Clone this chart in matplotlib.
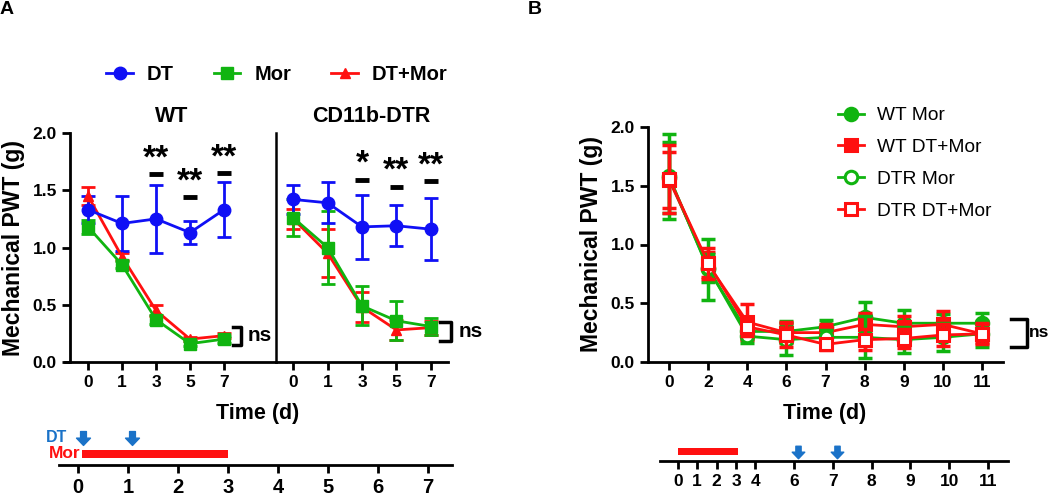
import numpy as np
import matplotlib
matplotlib.use('Agg')
import matplotlib.pyplot as plt
from matplotlib.lines import Line2D
from matplotlib.path import Path

plt.rcParams['font.family'] = ['Liberation Sans', 'DejaVu Sans']
plt.rcParams['font.weight'] = 'bold'
plt.rcParams['axes.labelweight'] = 'bold'

# ---- panel A data (mean, sem) ----
days_a = ['0', '1', '3', '5', '7']
wt_dt = [1.33, 1.21, 1.25, 1.13, 1.33]
wt_dt_err = [0.12, 0.24, 0.30, 0.10, 0.24]
wt_mor = [1.18, 0.85, 0.37, 0.16, 0.20]
wt_mor_err = [0.06, 0.03, 0.04, 0.02, 0.03]
wt_dtmor = [1.45, 0.92, 0.45, 0.20, 0.23]
wt_dtmor_err = [0.08, 0.03, 0.05, 0.02, 0.02]
dtr_dt = [1.42, 1.39, 1.18, 1.19, 1.16]
dtr_dt_err = [0.13, 0.18, 0.28, 0.18, 0.27]
dtr_mor = [1.26, 1.00, 0.49, 0.36, 0.31]
dtr_mor_err = [0.16, 0.32, 0.17, 0.17, 0.07]
dtr_dtmor = [1.25, 0.95, 0.48, 0.28, 0.30]
dtr_dtmor_err = [0.09, 0.21, 0.13, 0.09, 0.06]

sig_wt_x = [2, 3, 4]
sig_wt_y = [1.64, 1.44, 1.65]
sig_wt_txt = ['**', '**', '**']
sig_dtr_x = [2, 3, 4]
sig_dtr_y = [1.59, 1.53, 1.58]
sig_dtr_txt = ['*', '**', '**']

# ---- panel B data ----
days_b = ['0', '2', '4', '6', '7', '8', '9', '10', '11']
b_wt_mor = [1.58, 0.79, 0.26, 0.26, 0.30, 0.38, 0.33, 0.33, 0.33]
b_wt_mor_err = [0.36, 0.26, 0.06, 0.09, 0.06, 0.13, 0.11, 0.08, 0.09]
b_wt_dtmor = [1.55, 0.83, 0.34, 0.25, 0.25, 0.32, 0.30, 0.32, 0.24]
b_wt_dtmor_err = [0.24, 0.11, 0.15, 0.09, 0.07, 0.10, 0.09, 0.11, 0.08]
b_dtr_mor = [1.57, 0.80, 0.22, 0.19, 0.21, 0.21, 0.19, 0.21, 0.24]
b_dtr_mor_err = [0.30, 0.12, 0.06, 0.13, 0.06, 0.18, 0.11, 0.12, 0.11]
b_dtr_dtmor = [1.56, 0.84, 0.30, 0.23, 0.15, 0.19, 0.20, 0.23, 0.24]
b_dtr_dtmor_err = [0.29, 0.13, 0.08, 0.10, 0.05, 0.09, 0.08, 0.09, 0.09]

# ---- timelines ----
tl_a_days = [0, 1, 2, 3, 4, 5, 6, 7]
tl_a_mor = (0.08, 3.0)
tl_a_dt = [0.1, 1.07]
tl_b_days = [0, 1, 2, 3, 4, 6, 7, 8, 9, 10, 11]
tl_b_mor = (0, 3.1)
tl_b_dt = [6.1, 7.1]

BLUE = '#1010f5'
GREEN = '#10b410'
RED = '#ff1010'
ARROW = '#1a72c8'

W, H = 1050, 496
def fx(x): return x / W
def fy(y): return 1 - y / H
def rect(l, t, r, b): return [fx(l), fy(b), (r - l) / W, (b - t) / H]

# down arrow marker
arrow_mk = Path([(-0.42, 1), (0.42, 1), (0.42, 0.05), (1, 0.05), (0, -1), (-1, 0.05), (-0.42, 0.05), (-0.42, 1)],
                [Path.MOVETO] + [Path.LINETO] * 6 + [Path.CLOSEPOLY])

fig = plt.figure(figsize=(10.5, 4.96), dpi=100)

def style(ax):
    for s in ['top', 'right']:
        ax.spines[s].set_visible(False)
    for s in ['left', 'bottom']:
        ax.spines[s].set_linewidth(2)
    ax.tick_params(width=2, length=6, labelsize=12.5)

ax1 = fig.add_axes(rect(70, 133, 276, 362))
ax2 = fig.add_axes(rect(276, 133, 448, 362))
for ax, dt, dte, mo, moe, dm, dme in [
        (ax1, wt_dt, wt_dt_err, wt_mor, wt_mor_err, wt_dtmor, wt_dtmor_err),
        (ax2, dtr_dt, dtr_dt_err, dtr_mor, dtr_mor_err, dtr_dtmor, dtr_dtmor_err)]:
    x = np.arange(len(days_a))
    style(ax)
    ax.errorbar(x, dm, yerr=dme, color=RED, marker='^', ms=7, lw=2, capsize=5, capthick=2, elinewidth=2)
    ax.errorbar(x, mo, yerr=moe, color=GREEN, marker='s', ms=8, lw=2, capsize=5, capthick=2, elinewidth=2)
    ax.errorbar(x, dt, yerr=dte, color=BLUE, marker='o', ms=9, lw=2, capsize=5, capthick=2, elinewidth=2)
    ax.set_xticks(x)
    ax.set_xticklabels(days_a)
    ax.set_ylim(0, 2.0)

ax1.set_xlim(-0.53, 5.53)
ax2.set_xlim(-0.5, 4.5)
ax1.set_yticks([0, 0.5, 1.0, 1.5, 2.0])
ax1.set_yticklabels(['0.0', '0.5', '1.0', '1.5', '2.0'])
ax1.set_ylabel('Mechanical PWT (g)', fontsize=16.5, labelpad=5)
ax2.set_yticks([])
ax2.spines['left'].set_linewidth(1.8)
ax1.spines['bottom'].set_bounds(-0.68, 5.53)

for ax, sx, sy, st in [(ax1, sig_wt_x, sig_wt_y, sig_wt_txt), (ax2, sig_dtr_x, sig_dtr_y, sig_dtr_txt)]:
    for xx, yy, tt in zip(sx, sy, st):
        ax.plot([xx - 0.2, xx + 0.2], [yy, yy], color='black', lw=3.5, solid_capstyle='butt')
        ax.text(xx, yy, tt, ha='center', va='bottom', fontsize=24)

def bracket(ax, x0, x1, y0, y1, fs=15, pad=5):
    ax.plot([x0, x1, x1, x0], [y0, y0, y1, y1], color='black', lw=2.5, clip_on=False)
    ax.annotate('ns', xy=(x1, (y0 + y1) / 2), xytext=(pad, 0), textcoords='offset points',
                ha='left', va='center', fontsize=fs, annotation_clip=False)

bracket(ax1, 4.27, 4.5, 0.31, 0.15)
bracket(ax2, 4.27, 4.6, 0.35, 0.18)

fig.text(fx(172), fy(117), 'WT', ha='center', va='center', fontsize=15.5)
fig.text(fx(371), fy(117), 'CD11b-DTR', ha='center', va='center', fontsize=15.5)
fig.text(fx(258), fy(414), 'Time (d)', ha='center', va='center', fontsize=15.5)
fig.text(fx(0), fy(10), 'A', ha='left', va='center', fontsize=14)
fig.text(fx(528), fy(10), 'B', ha='left', va='center', fontsize=14)

hA = [Line2D([], [], color=BLUE, marker='o', ms=9, lw=2),
      Line2D([], [], color=GREEN, marker='s', ms=8, lw=2),
      Line2D([], [], color=RED, marker='^', ms=7, lw=2)]
fig.legend(hA, ['DT', 'Mor', 'DT+Mor'], ncol=3, loc='center', bbox_to_anchor=(fx(277), fy(75)),
           frameon=False, prop={'size': 14.5, 'weight': 'bold'}, handlelength=1.3, columnspacing=2.0,
           handletextpad=0.7)

# ---- panel B ----
ax3 = fig.add_axes(rect(648, 127, 1003, 362))
style(ax3)
xb = np.arange(len(days_b))
series_b = [(b_wt_mor, b_wt_mor_err, GREEN, 'o', GREEN, 'WT Mor'),
            (b_wt_dtmor, b_wt_dtmor_err, RED, 's', RED, 'WT DT+Mor'),
            (b_dtr_mor, b_dtr_mor_err, GREEN, 'o', 'white', 'DTR Mor'),
            (b_dtr_dtmor, b_dtr_dtmor_err, RED, 's', 'white', 'DTR DT+Mor')]
hB = []
for vals, err, col, mk, fc, lab in series_b:
    ax3.errorbar(xb, vals, yerr=err, fmt='none', ecolor=col, elinewidth=2.5, capsize=5, capthick=2.5)
    ln, = ax3.plot(xb, vals, color=col, marker=mk, ms=9, mfc=fc, mec=col, mew=2.2, lw=2, label=lab)
    hB.append(ln)
ax3.set_xticks(xb)
ax3.set_xticklabels(days_b)
ax3.set_xlim(-0.54, 8.54)
ax3.set_ylim(0, 2.0)
ax3.set_yticks([0, 0.5, 1.0, 1.5, 2.0])
ax3.set_yticklabels(['0.0', '0.5', '1.0', '1.5', '2.0'])
ax3.set_ylabel('Mechanical PWT (g)', fontsize=16.5, labelpad=5)
bracket(ax3, 8.74, 9.15, 0.37, 0.13, fs=12.5, pad=1.5)
fig.text(fx(825), fy(413), 'Time (d)', ha='center', va='center', fontsize=15.5)
fig.legend(hB, [h.get_label() for h in hB], loc='upper left', bbox_to_anchor=(fx(838), fy(107)),
           frameon=False, prop={'size': 13.8, 'weight': 'normal'}, labelspacing=0.75,
           handlelength=1.35, handletextpad=0.7, borderpad=0, borderaxespad=0)

# ---- timelines ----
def timeline(ax, fs):
    for s in ['top', 'right', 'left']:
        ax.spines[s].set_visible(False)
    ax.spines['bottom'].set_linewidth(2)
    ax.tick_params(axis='x', width=2, length=6, labelsize=fs)
    ax.set_yticks([])
    ax.set_ylim(0, 35)

t1 = fig.add_axes(rect(59, 430, 452, 465))
timeline(t1, 14.5)
t1.set_xlim(-0.38, 7.48)
t1.set_xticks(tl_a_days)
t1.set_xticklabels([str(d) for d in tl_a_days])
t1.barh(11, tl_a_mor[1] - tl_a_mor[0], left=tl_a_mor[0], height=8, color=RED)
t1.plot(tl_a_dt, [27] * len(tl_a_dt), ls='none', marker=arrow_mk, ms=10, color=ARROW, clip_on=False)
fig.text(fx(56), fy(438), 'DT', color=ARROW, ha='center', va='center', fontsize=11.5)
fig.text(fx(49), fy(454), 'Mor', color=RED, ha='left', va='center', fontsize=12.5)

t2 = fig.add_axes(rect(660, 426, 1008, 461))
timeline(t2, 12.5)
pos_b = [d / 2 if d <= 4 else d - 3 for d in tl_b_days]
t2.set_xlim(-0.46, 8.52)
t2.set_xticks(pos_b)
t2.set_xticklabels([str(d) for d in tl_b_days])
t2.barh(10, (tl_b_mor[1] - tl_b_mor[0]) / 2, left=tl_b_mor[0] / 2, height=7, color=RED)
t2.plot([d - 3 for d in tl_b_dt], [9] * len(tl_b_dt), ls='none', marker=arrow_mk, ms=9,
        color=ARROW, clip_on=False)

fig.savefig('out.png', dpi=100)
